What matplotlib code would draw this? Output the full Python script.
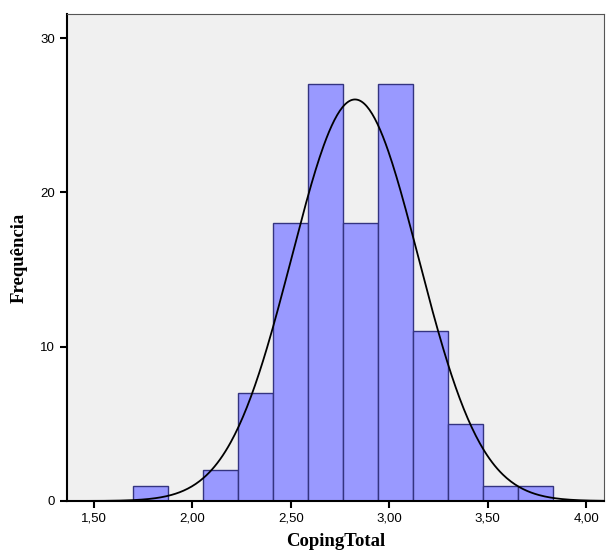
import numpy as np
import matplotlib.pyplot as plt

# histogram of CopingTotal (SPSS-style)
bin_start = 1.697
bin_width = 0.178
counts = [1, 0, 2, 7, 18, 27, 18, 27, 11, 5, 1, 1]
mean = 2.826
sd = 0.322
n_total = sum(counts)

x_ticks = [1.5, 2.0, 2.5, 3.0, 3.5, 4.0]
x_labels = ["1,50", "2,00", "2,50", "3,00", "3,50", "4,00"]
y_ticks = [0, 10, 20, 30]

fig = plt.figure(figsize=(6.06, 5.52), dpi=100)
ax = fig.add_axes([0.1106, 0.0924, 0.8861, 0.8822])
ax.set_facecolor("#f0f0f0")

lefts = bin_start + bin_width * np.arange(len(counts))
ax.bar(lefts, counts, width=bin_width, align="edge", color="#9999ff",
       edgecolor="#343480", linewidth=1.0, zorder=2)

xs = np.linspace(1.36, 4.09, 400)
ys = n_total * bin_width / (sd * np.sqrt(2 * np.pi)) * np.exp(-0.5 * ((xs - mean) / sd) ** 2)
ax.plot(xs, ys, color="black", linewidth=1.3, zorder=3)

ax.set_xlim(1.363, 4.091)
ax.set_ylim(0, 31.56)
ax.set_xticks(x_ticks)
ax.set_xticklabels(x_labels)
ax.set_yticks(y_ticks)
ax.tick_params(direction="out", length=5, width=1.5, labelsize=9.5, color="black")
for lab in ax.get_xticklabels() + ax.get_yticklabels():
    lab.set_family("Liberation Sans")

for side in ["left", "bottom"]:
    ax.spines[side].set_linewidth(1.5)
for side in ["top", "right"]:
    ax.spines[side].set_linewidth(0.8)
    ax.spines[side].set_color("#555555")

ax.set_xlabel("CopingTotal", family="Liberation Serif", fontweight="bold", fontsize=13.5, labelpad=6)
ax.set_ylabel("Frequência", family="Liberation Serif", fontweight="bold", fontsize=13.5, labelpad=9)

fig.savefig("out.png", dpi=100)
